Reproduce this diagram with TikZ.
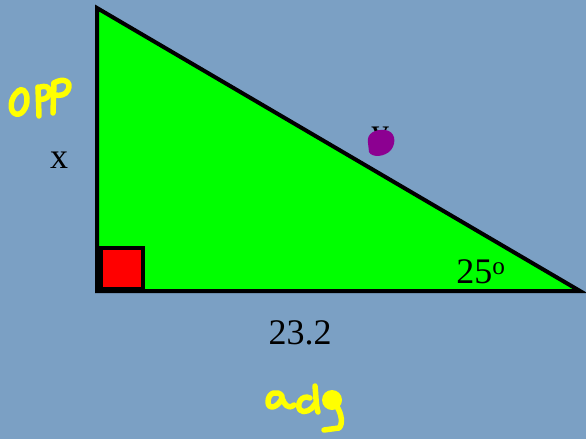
\documentclass[tikz,border=0pt]{standalone}
\usepackage{fontspec}
\setmainfont{Liberation Serif}
\definecolor{bgblue}{RGB}{123,160,196}
\definecolor{trigreen}{RGB}{0,255,0}
\definecolor{sqred}{RGB}{255,0,0}
\definecolor{blobpurple}{RGB}{140,0,145}
\definecolor{hand}{RGB}{255,255,0}
\tikzset{
  tri/.style={fill=trigreen, draw=black, line width=4pt, line join=miter},
  sq/.style={fill=sqred, draw=black, line width=4pt},
  lbl/.style={font=\fontsize{36}{40}\selectfont, inner sep=0pt},
  scribble/.style={draw=hand, line width=5.5pt, line cap=round, line join=round}
}
\begin{document}
\begin{tikzpicture}[x=1pt,y=-1pt]
\fill[bgblue] (0,0) rectangle (586,439);
\useasboundingbox (0,0) rectangle (586,439);
% triangle
\coordinate (A) at (97,8);
\coordinate (B) at (97,291);
\coordinate (C) at (580,291);
\draw[tri] (A) -- (B) -- (C) -- cycle;
\draw[sq] (101,248) rectangle (143,289);
% labels
\node[lbl] (xlbl) at (59,160) {x};
\node[lbl] (base) at (300,333) {23.2};
\node[lbl] (ang) at (481,272) {25\textsuperscript{o}};
\node[lbl, anchor=north] (ylbl) at (380,127) {y};
% purple blob
\fill[blobpurple] (368,143) .. controls (366,133) and (376,129) .. (385,130)
  .. controls (395,131) and (397,142) .. (391,150)
  .. controls (385,157) and (372,158) .. (369,152) -- cycle;
% OPP scribble
\draw[scribble] (22,90) .. controls (12,92) and (8,108) .. (14,113)
  .. controls (20,118) and (28,108) .. (27,98) .. controls (26,90) and (22,88) .. (18,91);
\draw[scribble] (38,87) -- (39,116);
\draw[scribble] (38,88) .. controls (46,84) and (52,88) .. (49,95) .. controls (47,99) and (42,100) .. (39,99);
\draw[scribble] (54,83) -- (53,113);
\draw[scribble] (54,83) .. controls (64,77) and (72,82) .. (68,90) .. controls (66,95) and (60,96) .. (55,95);
% adg scribble
\draw[scribble] (282,396) .. controls (278,390) and (268,392) .. (268,402)
  .. controls (268,410) and (278,408) .. (282,398) .. controls (284,404) and (288,410) .. (294,405);
\draw[scribble] (310,398) .. controls (302,394) and (296,404) .. (300,410)
  .. controls (304,414) and (312,410) .. (315,404);
\draw[scribble] (315,386) .. controls (316,396) and (316,406) .. (318,412);
\fill[hand] (332,400) circle (10);
\draw[scribble] (336,405) .. controls (342,414) and (343,424) .. (339,428) -- (324,430);
\end{tikzpicture}
\end{document}
